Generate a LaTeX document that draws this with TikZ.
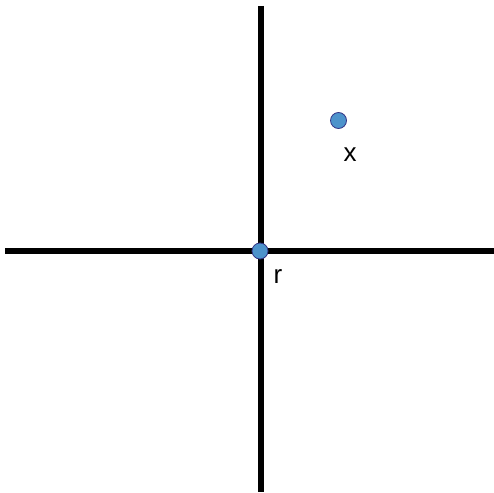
\documentclass[tikz,border=0pt]{standalone}
\usepackage{fontspec}
\setmainfont{Liberation Sans}
\usetikzlibrary{positioning}

\tikzset{
  axisline/.style={line width=6pt},
  pt/.style={circle,draw=blue!40!black!80,fill=blue!45!cyan!55!gray!90,line width=0.8pt,minimum size=16pt,inner sep=0pt},
  lbl/.style={font=\fontsize{26}{26}\selectfont,inner sep=0pt}
}

\begin{document}
\begin{tikzpicture}[x=1pt,y=-1pt]
  \useasboundingbox (0,0) rectangle (494,492);
  \draw[axisline] (261,6) -- (261,492); % vertical axis
  \draw[axisline] (5,250.5) -- (494,250.5); % horizontal axis
  \node[pt] (r) at (260,251) {};
  \node[pt] (x) at (338.5,120.5) {};
  \node[lbl] (rlbl) at (278,277) {r};
  \node[lbl] (xlbl) at (350,155) {x};
\end{tikzpicture}
\end{document}
